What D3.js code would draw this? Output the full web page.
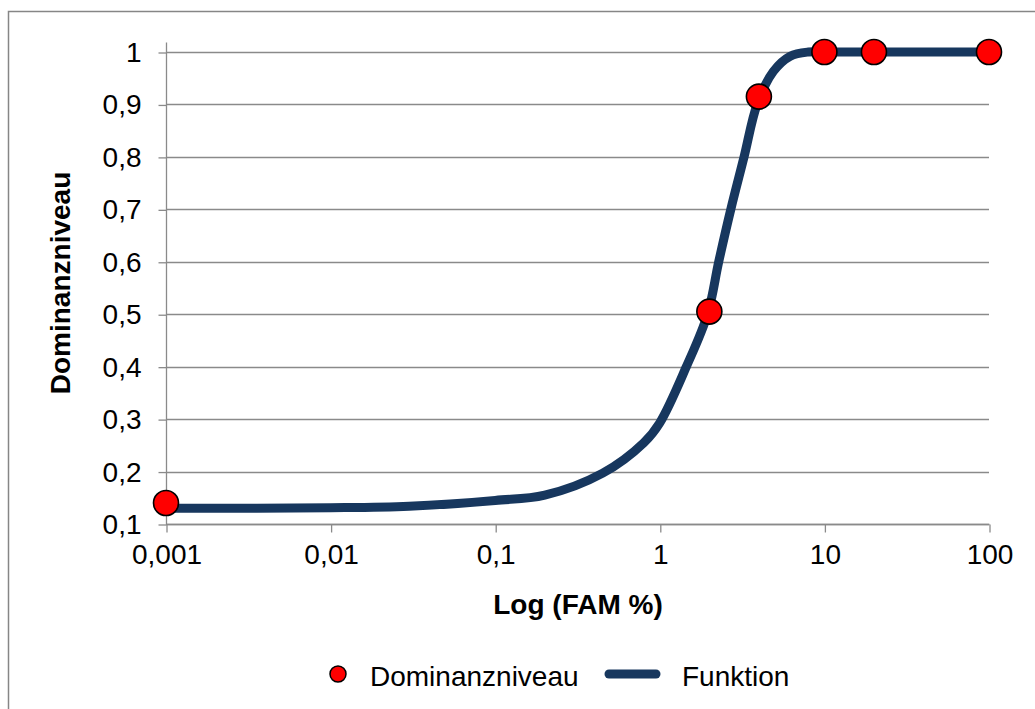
<!DOCTYPE html>
<html>
<head>
<meta charset="utf-8">
<script src="https://cdn.jsdelivr.net/npm/d3@7"></script>
<style>
  html, body { margin: 0; padding: 0; background: #fff; }
  svg { display: block; font-family: "Liberation Sans", Arial, sans-serif; }
</style>
</head>
<body>
<svg id="chart" width="1035" height="709"></svg>
<script>
// Measured dominance levels
const domX = [0.001, 2, 4, 10, 20, 100];
const domY = [0.14, 0.505, 0.915, 1, 1, 1];

// Fitted function, sampled along the x range
const funcX = [0.001, 0.01, 0.03, 0.1, 0.2, 0.45, 0.8, 1, 1.45, 1.95, 2.28, 2.7, 3.25, 3.9, 4.9, 6.2, 8, 10, 20, 100];
const funcY = [0.130, 0.131, 0.134, 0.145, 0.155, 0.197, 0.255, 0.293, 0.40, 0.50, 0.60, 0.70, 0.80, 0.90, 0.963, 0.992, 1.0, 1.0, 1.0, 1.0];

// Axis ticks and labels
const xTicks = [0.001, 0.01, 0.1, 1, 10, 100];
const xTickLabels = ["0,001", "0,01", "0,1", "1", "10", "100"];
const yTicks = [0.1, 0.2, 0.3, 0.4, 0.5, 0.6, 0.7, 0.8, 0.9, 1];
const yTickLabels = ["0,1", "0,2", "0,3", "0,4", "0,5", "0,6", "0,7", "0,8", "0,9", "1"];

const seriesNames = ["Dominanzniveau", "Funktion"];
const xTitle = "Log (FAM %)";
const yTitle = "Dominanzniveau";

const svg = d3.select("#chart");
const gridColor = "#8a8a8a";
const lineColor = "#17375e";
const markerColor = "#ff0000";

const x = d3.scaleLog().domain([0.001, 100]).range([166, 989]);
const y = d3.scaleLinear().domain([0.1, 1]).range([524, 52]);

// chart frame
svg.append("rect")
  .attr("x", 8.5).attr("y", 11.5)
  .attr("width", 1100).attr("height", 800)
  .attr("fill", "#fff").attr("stroke", "#868686").attr("stroke-width", 1.5);

// horizontal gridlines
svg.append("g").selectAll("line").data(yTicks).join("line")
  .attr("x1", x(0.001)).attr("x2", x(100))
  .attr("y1", d => Math.round(y(d)) + 0.5).attr("y2", d => Math.round(y(d)) + 0.5)
  .attr("stroke", gridColor).attr("stroke-width", 1.3);

// y axis
const yAxis = d3.axisLeft(y).tickValues(yTicks).tickSize(8).tickPadding(17)
  .tickFormat((d, i) => yTickLabels[i]);
const gy = svg.append("g").attr("transform", `translate(${x(0.001) + 0.5},0.5)`).call(yAxis);
gy.select(".domain").remove();
gy.append("line").attr("x1", 0).attr("x2", 0).attr("y1", 42).attr("y2", y(0.1))
  .attr("stroke", gridColor).attr("stroke-width", 1.3);
gy.selectAll(".tick line").attr("stroke", gridColor).attr("stroke-width", 1.3);
gy.selectAll(".tick text").attr("font-size", 28).attr("fill", "#000")
  .attr("font-family", "Liberation Sans, Arial, sans-serif");

// x axis
const xAxis = d3.axisBottom(x).tickValues(xTicks).tickSize(8).tickPadding(12)
  .tickFormat((d, i) => xTickLabels[i]);
const gx = svg.append("g").attr("transform", `translate(0.5,${Math.round(y(0.1)) + 0.5})`).call(xAxis);
gx.select(".domain").attr("stroke", gridColor).attr("stroke-width", 1.3)
  .attr("d", `M${x(0.001)},0H${x(100)}`);
gx.selectAll(".tick line").attr("stroke", gridColor).attr("stroke-width", 1.3);
gx.selectAll(".tick text").attr("font-size", 28).attr("fill", "#000")
  .attr("font-family", "Liberation Sans, Arial, sans-serif");

// function curve
const funcData = funcX.map((v, i) => [v, funcY[i]]);
const line = d3.line().x(d => x(d[0])).y(d => y(d[1])).curve(d3.curveCatmullRom.alpha(0.5));
svg.append("path").datum(funcData)
  .attr("d", line).attr("fill", "none")
  .attr("stroke", lineColor).attr("stroke-width", 9)
  .attr("stroke-linecap", "round").attr("stroke-linejoin", "round");

// measured points
const domData = domX.map((v, i) => [v, domY[i]]);
svg.append("g").selectAll("circle").data(domData).join("circle")
  .attr("cx", d => x(d[0])).attr("cy", d => y(d[1])).attr("r", 12.5)
  .attr("fill", markerColor).attr("stroke", "#000").attr("stroke-width", 1.6);

// axis titles
svg.append("text").attr("x", 578).attr("y", 614).attr("text-anchor", "middle")
  .attr("font-size", 28).attr("font-weight", "bold").attr("fill", "#000").text(xTitle);
svg.append("text").attr("transform", "translate(70,283) rotate(-90)").attr("text-anchor", "middle")
  .attr("font-size", 28).attr("font-weight", "bold").attr("fill", "#000").text(yTitle);

// legend
const lg = svg.append("g");
lg.append("circle").attr("cx", 338).attr("cy", 674).attr("r", 8)
  .attr("fill", markerColor).attr("stroke", "#000").attr("stroke-width", 1.5);
lg.append("text").attr("x", 370).attr("y", 686).attr("font-size", 28).attr("fill", "#000").text(seriesNames[0]);
lg.append("line").attr("x1", 609).attr("x2", 656).attr("y1", 674).attr("y2", 674)
  .attr("stroke", lineColor).attr("stroke-width", 9).attr("stroke-linecap", "round");
lg.append("text").attr("x", 682).attr("y", 686).attr("font-size", 28).attr("fill", "#000").text(seriesNames[1]);
</script>
</body>
</html>
